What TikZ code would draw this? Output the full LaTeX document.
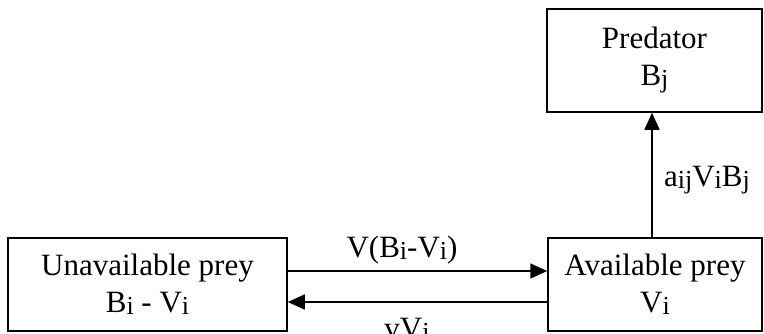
\documentclass[tikz,border=0pt]{standalone}
\usepackage{fontspec}
\setmainfont{Liberation Serif}
\usetikzlibrary{arrows.meta}

% index letters, a little smaller and set slightly below the baseline
\newcommand{\idx}[1]{\raisebox{-2pt}{\fontsize{26}{26}\selectfont #1}}

\tikzset{
  box/.style={draw, line width=1.5pt, align=center, inner sep=0pt,
              font=\fontsize{31}{37}\selectfont},
  flow/.style={line width=1.5pt, -{Triangle[length=17pt,width=15pt]}},
  lbl/.style={font=\fontsize{31}{37}\selectfont, inner sep=0pt, anchor=base}
}

\begin{document}
\begin{tikzpicture}[x=1pt, y=-1pt]
  \useasboundingbox (0,0) rectangle (764,333);

  \node[box, minimum width=215pt, minimum height=103pt] (pred) at (654.5,60.5)
    {Predator\\B\idx{j}};
  \node[box, minimum width=214pt, minimum height=93pt] (avail) at (655,284.5)
    {Available prey\\V\idx{i}};
  \node[box, minimum width=279pt, minimum height=93pt] (unavail) at (147.5,284.5)
    {Unavailable prey\\B\idx{i} - V\idx{i}};

  \draw[flow] ([yshift=13.5pt]unavail.east) -- ([yshift=13.5pt]avail.west);
  \draw[flow] ([yshift=-17.5pt]avail.west) -- ([yshift=-17.5pt]unavail.east);
  \draw[flow] ([xshift=-3pt]avail.north) -- ([xshift=-3pt]avail.north |- pred.south);

  \node[lbl] (uptake) at (402,257) {V(B\idx{i}-V\idx{i})};
  \node[lbl] (release) at (407,338) {vV\idx{i}};
  \node[lbl] (predation) at (707,186) {a\idx{ij}V\idx{i}B\idx{j}};
\end{tikzpicture}
\end{document}
